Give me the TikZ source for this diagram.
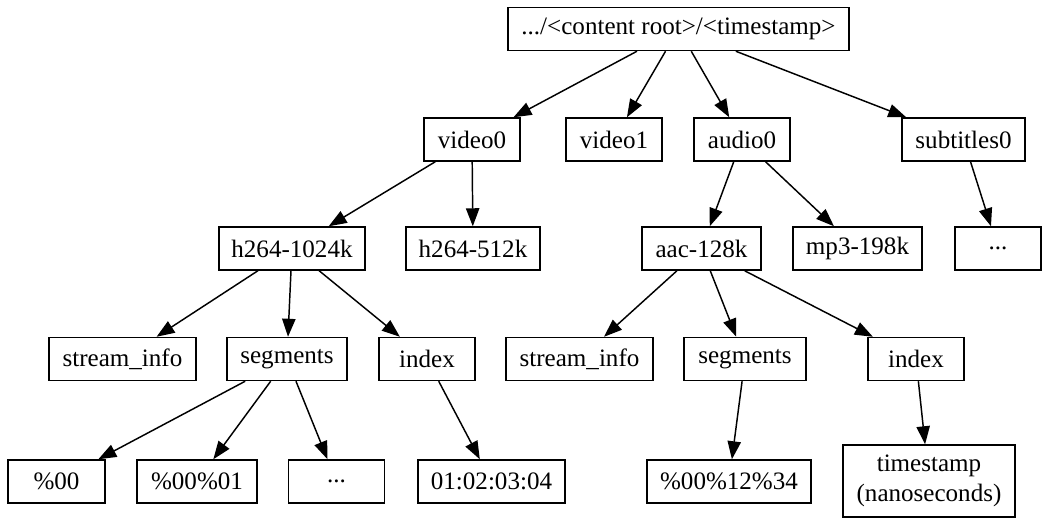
\documentclass[tikz,border=0pt]{standalone}
\usepackage{fontspec}
\setmainfont{Liberation Serif}
\usetikzlibrary{arrows.meta}
\begin{document}
\begin{tikzpicture}[x=0.75pt,y=-0.75pt,
  bx/.style={draw, line width=1.1pt, inner sep=0pt, minimum height=32.25pt,
    align=center, font=\fontsize{18.8}{22}\selectfont},
  wd/.style={minimum width=#1*0.75pt},
  edge/.style={line width=1.1pt, -{Triangle[length=13.5pt,width=10pt]}}]
\useasboundingbox (0,0) rectangle (1042,518);
% row 0
\node[bx,wd=341] (root) at (678.5,29) {.../<content root>/<timestamp>};
% row 1
\node[bx,wd=96]  (v0) at (472,139.5) {video0};
\node[bx,wd=96]  (v1) at (614,139.5) {video1};
\node[bx,wd=96]  (a0) at (742,139.5) {audio0};
\node[bx,wd=123] (s0) at (963.5,139.5) {subtitles0};
% row 2
\node[bx,wd=146] (h1)    at (292,248.5) {h264-1024k};
\node[bx,wd=134] (h5)    at (473,248.5) {h264-512k};
\node[bx,wd=119] (aac)   at (701.5,248.5) {aac-128k};
\node[bx,wd=129] (mp3)   at (857.5,248.5) {mp3-198k};
\node[bx,wd=86]  (sdots) at (998,248.5) {...};
% row 3
\node[bx,wd=147] (siL)  at (122.5,359) {stream\_info};
\node[bx,wd=120] (segL) at (287,359) {segments};
\node[bx,wd=96]  (idxL) at (427,359) {index};
\node[bx,wd=147] (siR)  at (579.5,359) {stream\_info};
\node[bx,wd=122] (segR) at (745,359) {segments};
\node[bx,wd=96]  (idxR) at (916,359) {index};
% row 4
\node[bx,wd=97]  (p00)     at (56.5,481.5) {\%00};
\node[bx,wd=120] (p0001)   at (197,481.5) {\%00\%01};
\node[bx,wd=96]  (ldots)   at (336.5,481.5) {...};
\node[bx,wd=147] (ts4)     at (491.5,481.5) {01:02:03:04};
\node[bx,wd=164] (p001234) at (729,481.5) {\%00\%12\%34};
\node[bx,wd=172,minimum height=54pt] (tsn) at (929,481) {timestamp\\(nanoseconds)};
% edges
\draw[edge] (root) -- (v0);
\draw[edge] (root) -- (v1);
\draw[edge] (root) -- (a0);
\draw[edge] (root) -- (s0);
\draw[edge] (v0) -- (h1);
\draw[edge] (v0) -- (h5);
\draw[edge] (a0) -- (aac);
\draw[edge] (a0) -- (mp3);
\draw[edge] (s0) -- (sdots);
\draw[edge] (h1) -- (siL);
\draw[edge] (h1) -- (segL);
\draw[edge] (h1) -- (idxL);
\draw[edge] (aac) -- (siR);
\draw[edge] (aac) -- (segR);
\draw[edge] (aac) -- (idxR);
\draw[edge] (segL) -- (p00);
\draw[edge] (segL) -- (p0001);
\draw[edge] (segL) -- (ldots);
\draw[edge] (idxL) -- (ts4);
\draw[edge] (segR) -- (p001234);
\draw[edge] (idxR) -- (tsn);
\end{tikzpicture}
\end{document}
